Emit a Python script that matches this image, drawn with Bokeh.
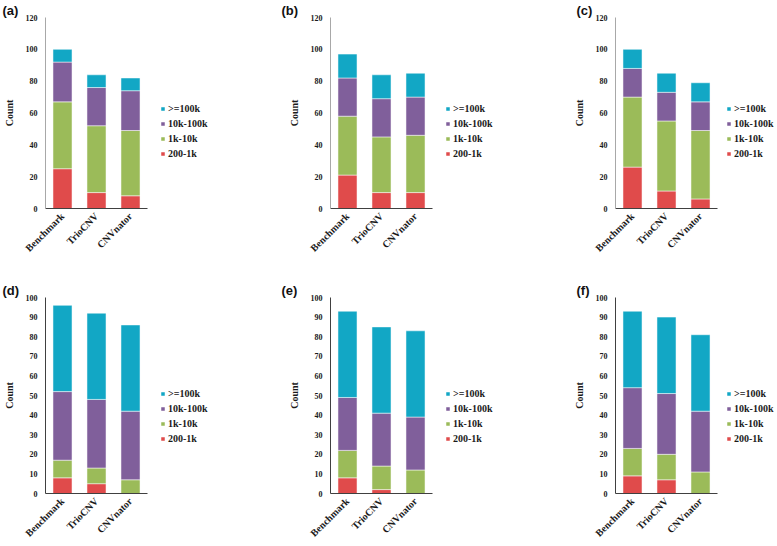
import math
from bokeh.plotting import figure
from bokeh.models import ColumnDataSource, Range1d, Legend, LegendItem, FixedTicker
from bokeh.layouts import column, row
from bokeh.embed import file_html
from bokeh.resources import INLINE

categories = ["Benchmark", "TrioCNV", "CNVnator"]
size_classes = ["200-1k", "1k-10k", "10k-100k", ">=100k"]
colors = ["#E04B4B", "#9BBB59", "#805F9B", "#12A7C5"]

# panel (a)
a_200_1k = [25, 10, 8]
a_1k_10k = [42, 42, 41]
a_10k_100k = [25, 24, 25]
a_100k = [8, 8, 8]
# panel (b)
b_200_1k = [21, 10, 10]
b_1k_10k = [37, 35, 36]
b_10k_100k = [24, 24, 24]
b_100k = [15, 15, 15]
# panel (c)
c_200_1k = [26, 11, 6]
c_1k_10k = [44, 44, 43]
c_10k_100k = [18, 18, 18]
c_100k = [12, 12, 12]
# panel (d)
d_200_1k = [8, 5, 0]
d_1k_10k = [9, 8, 7]
d_10k_100k = [35, 35, 35]
d_100k = [44, 44, 44]
# panel (e)
e_200_1k = [8, 2, 0]
e_1k_10k = [14, 12, 12]
e_10k_100k = [27, 27, 27]
e_100k = [44, 44, 44]
# panel (f)
f_200_1k = [9, 7, 0]
f_1k_10k = [14, 13, 11]
f_10k_100k = [31, 31, 31]
f_100k = [39, 39, 39]

top_ticks = [0, 20, 40, 60, 80, 100, 120]
bottom_ticks = [0, 10, 20, 30, 40, 50, 60, 70, 80, 90, 100]

SERIF = "Liberation Serif"
SANS = "Liberation Sans"
UNIT_PX = 34  # pixels per category slot


def make_panel(tag, series, ymax, ticks, width, height, bl, bt, bb,
               yaxis_color, title_offset, legend_dx):
    positions = [i + 0.5 for i in range(len(categories))]
    data = {"x": positions}
    for name, vals in zip(size_classes, series):
        data[name] = vals
    src = ColumnDataSource(data)
    frame_w = width - bl
    p = figure(x_range=Range1d(0, frame_w / UNIT_PX),
               y_range=Range1d(0, ymax), width=width, height=height,
               output_backend="svg", toolbar_location=None,
               min_border_left=bl, min_border_right=0,
               min_border_top=bt, min_border_bottom=bb,
               title=tag)
    p.title.align = "left"
    p.title.offset = title_offset
    p.title.standoff = 0
    p.title.text_font = SANS
    p.title.text_font_style = "bold"
    p.title.text_font_size = "13px"
    p.title.text_color = "#111111"
    rs = p.vbar_stack(size_classes, x="x", width=0.56, color=colors,
                      line_color="white", line_width=0.5, source=src)
    items = [LegendItem(label=n, renderers=[r]) for n, r in zip(size_classes, rs)]
    items.reverse()
    leg = Legend(items=items, location=(len(categories) * UNIT_PX + legend_dx, 49),
                 margin=0, padding=0,
                 spacing=4, label_height=10, glyph_height=5, glyph_width=5,
                 label_standoff=3, border_line_color=None,
                 background_fill_alpha=0,
                 label_text_font=SERIF, label_text_font_style="bold",
                 label_text_font_size="10px", label_text_color="#1a1a1a")
    p.add_layout(leg, "center")
    p.xgrid.visible = False
    p.ygrid.visible = False
    p.outline_line_color = None
    p.yaxis.ticker = FixedTicker(ticks=ticks)
    p.xaxis.ticker = FixedTicker(ticks=positions)
    p.xaxis.major_label_overrides = {x: c for x, c in zip(positions, categories)}
    p.xaxis.bounds = (0, len(categories))
    p.yaxis.bounds = (0, ymax)
    for ax in (p.xaxis[0], p.yaxis[0]):
        ax.major_tick_line_color = None
        ax.minor_tick_line_color = None
        ax.major_tick_out = 0
        ax.major_tick_in = 0
        ax.minor_tick_out = 0
        ax.minor_tick_in = 0
        ax.major_label_text_font = SERIF
        ax.major_label_text_font_style = "bold"
        ax.major_label_text_color = "#1a1a1a"
    p.yaxis.axis_line_color = yaxis_color
    p.xaxis.axis_line_color = "#404040"
    p.yaxis.major_label_text_font_size = "8px"
    p.yaxis.major_label_standoff = 8
    p.yaxis.axis_label = "Count"
    p.yaxis.axis_label_text_font = SERIF
    p.yaxis.axis_label_text_font_style = "bold"
    p.yaxis.axis_label_text_font_size = "10px"
    p.yaxis.axis_label_text_color = "#1a1a1a"
    p.yaxis.axis_label_standoff = 8
    p.xaxis.major_label_text_font_size = "10px"
    p.xaxis.major_label_orientation = math.pi / 4
    p.xaxis.major_label_standoff = 6
    return p


pa = make_panel("(a)", [a_200_1k, a_1k_10k, a_10k_100k, a_100k], 120, top_ticks,
                259, 270, 45, 8, 62, "#A8A8A8", -43, 13)
pb = make_panel("(b)", [b_200_1k, b_1k_10k, b_10k_100k, b_100k], 120, top_ticks,
                258, 270, 71, 8, 62, "#A8A8A8", -49, 13)
pc = make_panel("(c)", [c_200_1k, c_1k_10k, c_10k_100k, c_100k], 120, top_ticks,
                259, 270, 98, 8, 62, "#A8A8A8", -39, 9)
pd = make_panel("(d)", [d_200_1k, d_1k_10k, d_10k_100k, d_100k], 100, bottom_ticks,
                259, 275, 45, 27, 51, "#404040", -43, 13)
pe = make_panel("(e)", [e_200_1k, e_1k_10k, e_10k_100k, e_100k], 100, bottom_ticks,
                258, 275, 71, 27, 51, "#404040", -49, 13)
pf = make_panel("(f)", [f_200_1k, f_1k_10k, f_10k_100k, f_100k], 100, bottom_ticks,
                259, 275, 98, 27, 51, "#404040", -39, 9)

layout = column(row(pa, pb, pc), row(pd, pe, pf))
open("out.html", "w").write(file_html(layout, INLINE))
